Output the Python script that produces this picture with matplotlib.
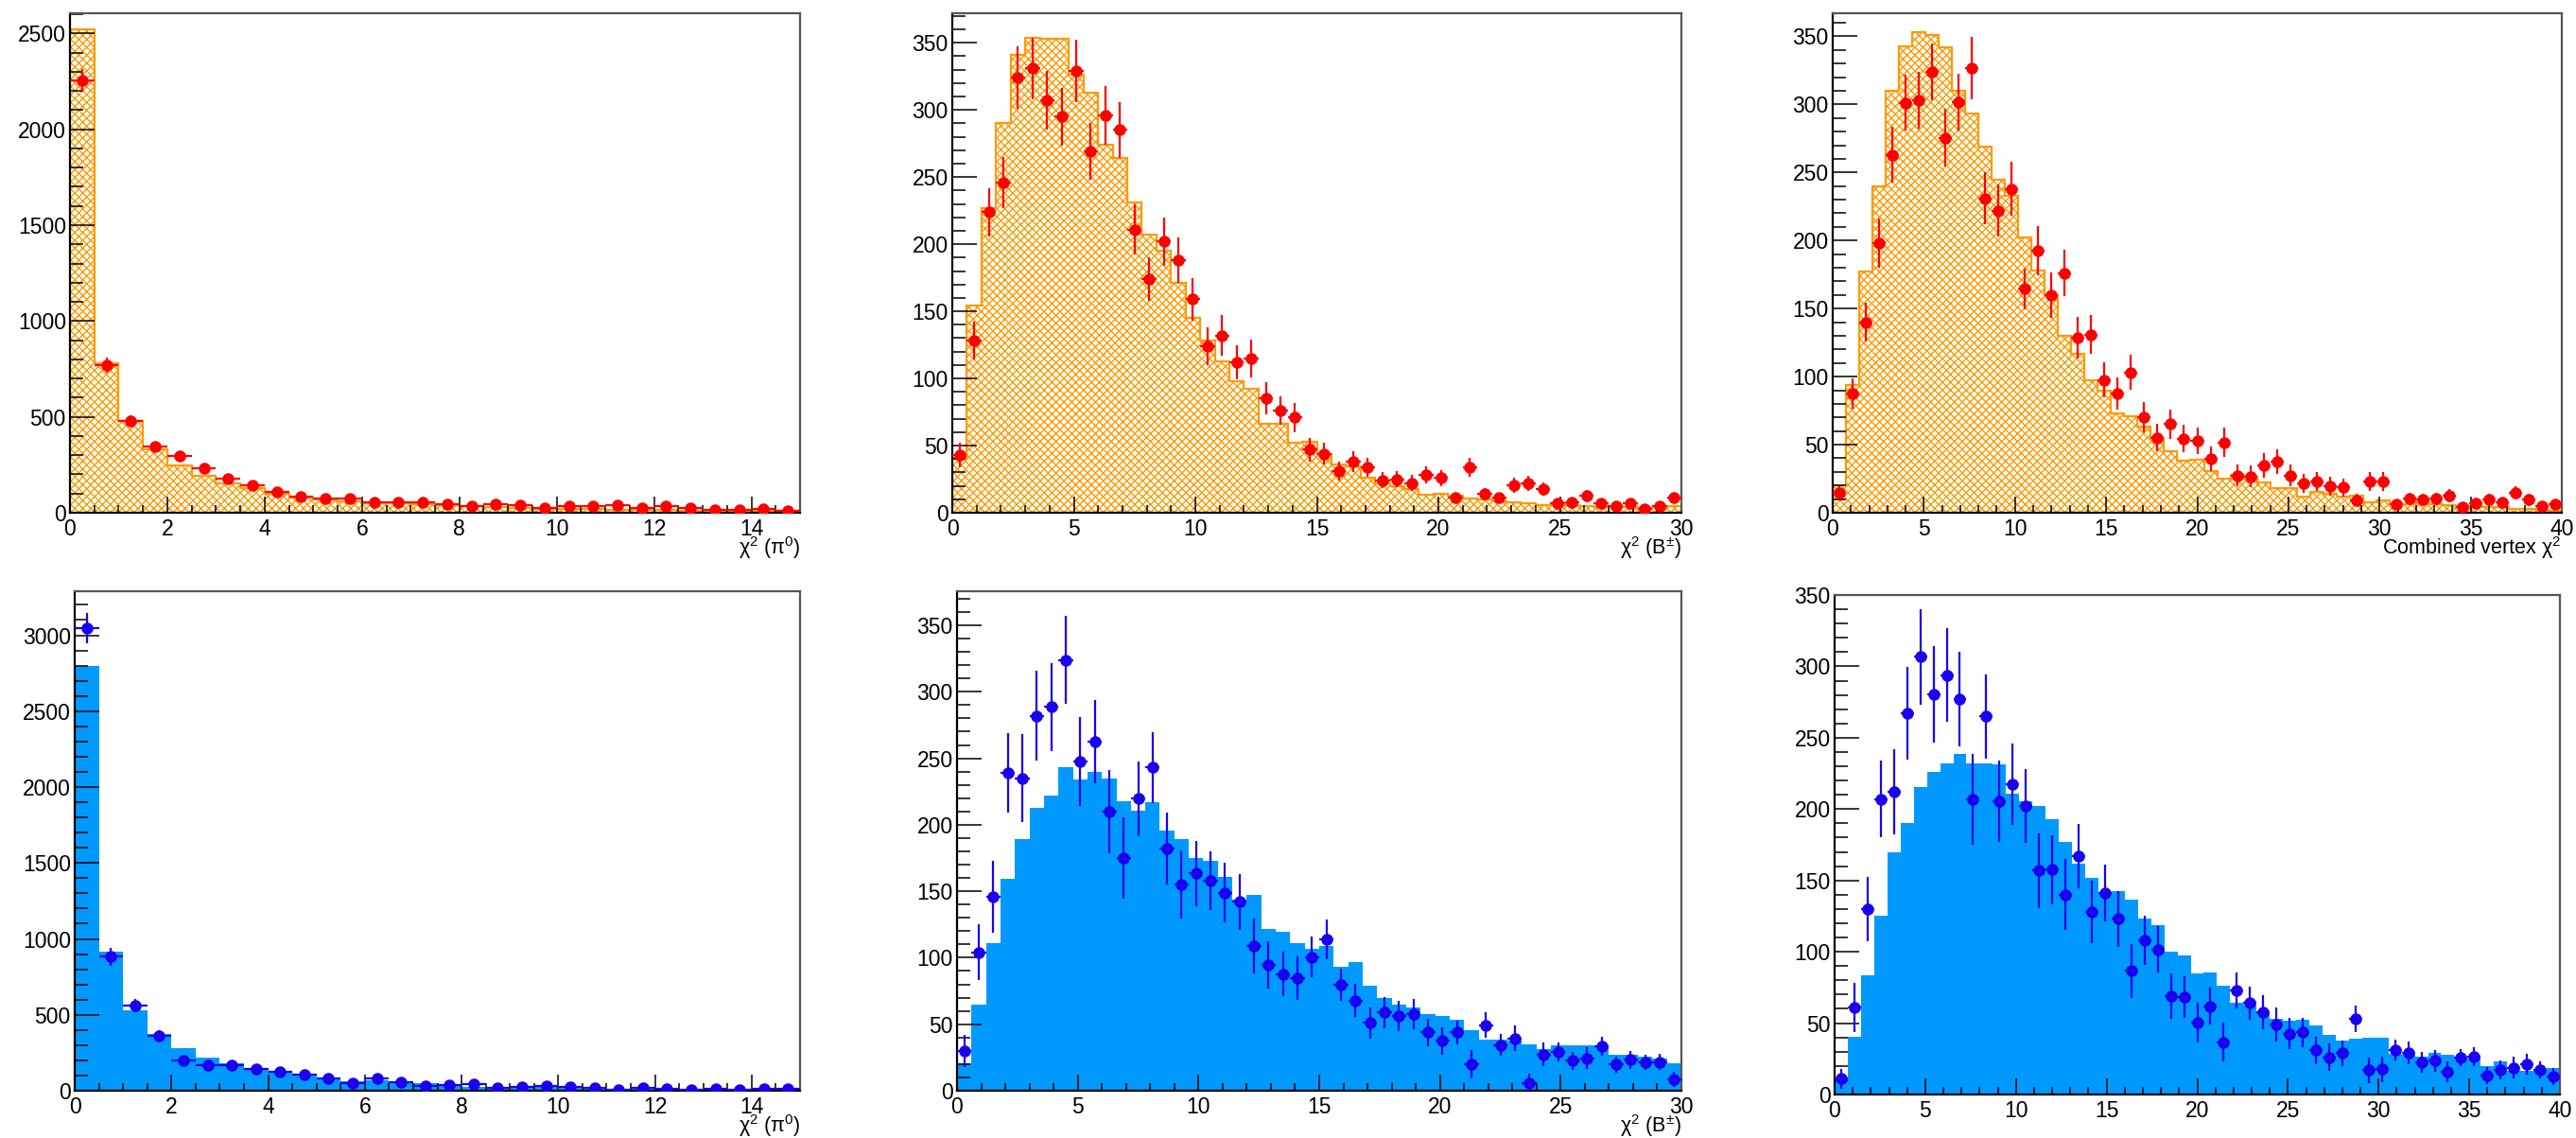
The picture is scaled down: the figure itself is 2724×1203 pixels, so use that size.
import numpy as np
import matplotlib
matplotlib.use('Agg')
import matplotlib.pyplot as plt
from matplotlib.ticker import MultipleLocator

# 字体设置
plt.rcParams['font.family'] = ['Liberation Sans', 'DejaVu Sans']
plt.rcParams['mathtext.fontset'] = 'custom'
plt.rcParams['mathtext.rm'] = 'Liberation Sans'
plt.rcParams['mathtext.it'] = 'Liberation Sans:italic'
plt.rcParams['hatch.linewidth'] = 1.0
plt.rcParams['hatch.color'] = '#ff9900'

# ---- top row: MC (hatched orange) + data (red) ----
mc_pi0_top = [2521, 780, 479, 331, 246, 190, 151, 128, 99, 81, 67, 60, 49, 49, 46,
              38, 33, 28, 25, 22, 20, 18, 16, 15, 13, 12, 11, 10, 9, 8]
data_pi0_top = [2255, 771, 481, 345, 296, 234, 178, 141, 111, 85, 72, 72, 53, 53, 53,
                44, 33, 44, 38, 25, 33, 33, 41, 25, 33, 25, 15, 15, 18, 8]
err_pi0_top = [57, 39, 27, 22, 20, 18, 16, 14, 13, 11, 10, 10, 9, 9, 9,
               8, 7, 8, 7, 6, 7, 7, 8, 6, 7, 6, 5, 5, 5, 4]

mc_b_top = [41, 154, 227, 290, 341, 354, 353, 353, 326, 313, 274, 264, 231, 207, 195,
            171, 145, 128, 113, 98, 92, 66, 66, 52, 53, 44, 36, 34.5, 26, 22,
            20, 17.6, 13.4, 14, 12.5, 10.6, 10, 8.7, 7.8, 7, 5.4, 5.4, 5.4, 4.7, 4,
            4.7, 4, 3.5, 4, 4.7]
data_b_top = [43, 128, 224, 246, 324, 331, 307, 295, 329, 269, 296, 285, 211, 174, 202,
              188, 159, 124, 132, 112, 115, 85, 76, 71, 47, 44, 31, 38, 34, 24,
              25, 22, 28, 26, 11, 34, 14, 11, 20.5, 22, 17.6, 7, 8, 12.5, 7,
              5, 7, 3, 5, 11]
err_b_top = [9, 14, 18, 19, 23, 23, 22, 21.5, 23, 21, 22, 20.5, 18.5, 16.5, 18,
             17, 16, 14, 15, 12.5, 14, 12, 10.5, 11, 9, 8, 7, 7.5, 7, 6,
             6, 6, 6.5, 6, 4, 7, 4.5, 4, 5.5, 5.5, 5, 3.5, 3.5, 4.5, 3.5,
             3, 3.5, 2.5, 3, 4]

mc_vtx_top = [20, 94, 177, 240, 310, 343, 353, 351, 342, 310, 293, 269, 245, 233, 202,
              178, 160, 130, 117, 97.5, 90, 73, 71, 63, 55, 45, 38, 38.7, 30.8, 24.8,
              27.8, 26.2, 22, 18, 18, 11.6, 15.5, 13.9, 11.6, 12.3, 7.6, 9.3, 6.3, 6.5, 7.4,
              6.3, 5.8, 4.6, 4.6, 3.9, 4.2, 3, 2.5, 2.1, 1.6]
data_vtx_top = [14.4, 87.6, 140, 198, 263, 301, 303, 324, 275.5, 301.6, 326.7, 231, 222, 238, 164.6,
                192.6, 160, 176, 128.6, 131, 97.5, 87.6, 103, 70, 55, 65, 54.5, 52.6, 39.4, 51.7,
                27.3, 26.7, 34.8, 37.5, 27.3, 21.6, 22.7, 19.7, 18.5, 9.3, 22.7, 22.7, 6.3, 10.4, 9.7,
                10.4, 12.3, 3.9, 7, 9.7, 7.4, 14.4, 9.7, 4.6, 6.5]
err_vtx_top = [5, 11, 14, 18, 20.5, 20.5, 21, 21, 21, 21, 23, 19, 19, 20, 15,
               18, 16.6, 17, 15, 14, 12.7, 12, 12.8, 11, 10, 10.5, 10, 9.7, 9, 11,
               8, 8, 9, 9, 8, 7, 7, 7, 6.5, 4.5, 7, 7, 3.5, 4.5, 4.5,
               4.5, 5, 3, 4, 4.5, 4, 5, 4.5, 3, 3.5]

# ---- bottom row: MC (filled blue) + data (dark blue) ----
mc_pi0_bot = [2796, 918, 530, 374, 278, 218, 182, 146, 122, 103, 79, 62, 67, 60, 48,
              30, 28, 25, 22, 22, 18, 15, 14, 12, 11, 10, 10, 9, 8, 8]
data_pi0_bot = [3046, 882, 559, 362, 199, 168, 170, 146, 122, 108, 79, 48, 79, 55, 31,
                35, 42, 17, 25, 31, 25, 17, 8, 19, 10, 8, 15, 8, 15, 14]
err_pi0_bot = [98, 57, 44, 36, 27, 25, 25, 23, 21, 20, 17, 13, 17, 14, 11,
               12, 13, 8, 10, 11, 10, 8, 6, 9, 6, 6, 8, 6, 8, 8]

mc_b_bot = [20.8, 64.5, 111, 159, 189, 213, 222, 243, 234, 239.5, 235, 218, 210.5, 217, 195.5,
            189.5, 175, 173, 161, 144, 147, 121.7, 119.8, 111, 107, 108.6, 93, 96.8, 79, 70,
            64.7, 62.4, 57.6, 56.4, 53.6, 45.8, 38.7, 38.7, 38, 34.6, 31.5, 33.9, 33.9, 33.9, 33.9,
            26.8, 26.8, 25.6, 24.4, 20.9]
data_b_bot = [30, 104, 146, 239, 235, 282, 288.5, 324, 247.5, 262.5, 210, 175, 219.6, 243, 182,
              155, 163.5, 158, 149, 142, 109, 94.6, 87.8, 84.8, 100.6, 114, 79.7, 67.8, 51, 58.8,
              56, 57.6, 44, 37.5, 44, 19.7, 49.3, 34.4, 39.4, 5.5, 27.3, 29, 22.5, 24.4, 33.4,
              19.7, 23.2, 21.6, 21.6, 8.5]
err_b_bot = [12, 21, 27, 30, 33, 34, 33, 33, 33.5, 31, 31.5, 30.5, 28, 26.7, 27,
             25.7, 24.6, 22.3, 22.6, 21, 20.5, 18, 17, 16.4, 15, 15, 12, 12.5, 11.6, 11.6,
             11.3, 11.3, 10.4, 10.3, 8.9, 10.7, 9.8, 8.3, 9.7, 7, 8.7, 7, 6.9, 8, 7,
             6.2, 7, 5.7, 6.3, 5.7]

mc_vtx_bot = [9.7, 40.3, 83.6, 125, 170, 190, 215.6, 225.8, 232, 238.6, 232, 232, 231.5, 210.6, 205.5,
              202, 193, 176.7, 162, 151.7, 142, 142.7, 136.6, 123, 118.5, 100, 97.6, 85, 85.5, 76.2,
              64.5, 63, 57.9, 53, 51.9, 52.6, 48.2, 42, 38, 39.3, 39.8, 39.8, 28.7, 27.6, 26.5,
              29.4, 28, 25.4, 25.4, 19.9, 23.2, 16.6, 16.6, 17.7, 18.3]
data_vtx_bot = [11, 61, 130, 207, 212, 267, 306.6, 280.6, 293.7, 277, 206.7, 265, 205.5, 217.4, 202,
                156.8, 157.5, 140, 167, 128, 141, 123, 86.7, 107.8, 101.5, 69, 68.3, 50.5, 61.9, 36.5,
                73, 64, 57.5, 49.3, 42.7, 43.5, 31, 26, 29, 53, 17, 17.7, 31, 29, 22.5,
                23.6, 16, 26, 26.5, 13.3, 17.2, 18.8, 21, 17.2, 12.6]
err_vtx_bot = [7, 17.3, 22.3, 27, 30, 32.6, 33.4, 33.8, 32.8, 32.9, 32, 29.6, 28.4, 28.8, 26,
               25.9, 24.2, 24.8, 22.7, 21.7, 20, 19.4, 19, 17.2, 16.2, 16, 14.7, 14, 12.7, 13.6,
               12.7, 11.8, 12, 12, 10.8, 10.3, 9.6, 9.6, 9, 9, 8.8, 9, 7.2, 8, 7,
               7.5, 7.2, 6, 6.8, 6, 6.4, 7.5, 7.2, 5.7, 5.8]

label_pi0 = r'χ$^{2}$ (π$^{0}$)'
label_b = r'χ$^{2}$ (B$^{\pm}$)'
label_vtx = r'Combined vertex χ$^{2}$'


def draw_panel(ax, xmax, mc, data, err, ymax, xmaj, xmin_, ymaj, ymin_, top, xlabel):
    n = len(mc)
    edges = np.linspace(0, xmax, n + 1)
    centers = 0.5 * (edges[1:] + edges[:-1])
    hw = 0.5 * (edges[1] - edges[0])
    if top:
        ax.stairs(mc, edges, fill=True, facecolor='white', edgecolor='#ff9900',
                  hatch='xxxx', linewidth=0)
        ax.stairs(mc, edges, color='#ff9900', linewidth=1.6, baseline=None)
        col = '#ff0000'
    else:
        ax.stairs(mc, edges, fill=True, color='#0099ff', linewidth=0)
        col = '#1a00f0'
    ax.errorbar(centers, data, yerr=err, xerr=hw, fmt='o', color=col, ms=8,
                elinewidth=1.6, capsize=0, zorder=3)

    ax.set_xlim(0, xmax)
    ax.set_ylim(0, ymax)
    ax.xaxis.set_major_locator(MultipleLocator(xmaj))
    ax.xaxis.set_minor_locator(MultipleLocator(xmin_))
    ax.yaxis.set_major_locator(MultipleLocator(ymaj))
    ax.yaxis.set_minor_locator(MultipleLocator(ymin_))
    ax.tick_params(which='both', direction='in', top=False, right=False,
                   labelsize=16.5, width=1.1, color='black')
    ax.tick_params(axis='y', which='major', length=19, pad=3)
    ax.tick_params(axis='y', which='minor', length=10)
    ax.tick_params(axis='x', which='major', length=12, pad=4)
    ax.tick_params(axis='x', which='minor', length=5.5)
    for s in ['left', 'bottom']:
        ax.spines[s].set_color('black')
        ax.spines[s].set_linewidth(1.6)
    for s in ['top', 'right']:
        ax.spines[s].set_color('#555555')
        ax.spines[s].set_linewidth(1.6)
    if xlabel:
        ax.annotate(xlabel, xy=(1, 0), xycoords='axes fraction', xytext=(0, -27),
                    textcoords='offset points', ha='right', va='center', fontsize=15.5)


W, H = 2724, 1203
fig = plt.figure(figsize=(W / 100, H / 100), dpi=100)

def add_ax(l, r, t, b):
    return fig.add_axes([l / W, 1 - b / H, (r - l) / W, (b - t) / H])

ax1 = add_ax(74, 846, 14, 542)
ax2 = add_ax(1007, 1778, 14, 542)
ax3 = add_ax(1938, 2709, 14, 542)
ax4 = add_ax(79, 846, 625, 1153)
ax5 = add_ax(1012, 1778, 625, 1153)
ax6 = add_ax(1940, 2707, 629, 1157)

draw_panel(ax1, 15, mc_pi0_top, data_pi0_top, err_pi0_top, 2605, 2, 0.5, 500, 100, True, label_pi0)
draw_panel(ax2, 30, mc_b_top, data_b_top, err_b_top, 372, 5, 1, 50, 10, True, label_b)
draw_panel(ax3, 40, mc_vtx_top, data_vtx_top, err_vtx_top, 367, 5, 1, 50, 10, True, label_vtx)
draw_panel(ax4, 15, mc_pi0_bot, data_pi0_bot, err_pi0_bot, 3290, 2, 0.5, 500, 100, False, label_pi0)
draw_panel(ax5, 30, mc_b_bot, data_b_bot, err_b_bot, 375.6, 5, 1, 50, 10, False, label_b)
draw_panel(ax6, 40, mc_vtx_bot, data_vtx_bot, err_vtx_bot, 350, 5, 1, 50, 10, False, None)

fig.savefig('out.png', dpi=100)
